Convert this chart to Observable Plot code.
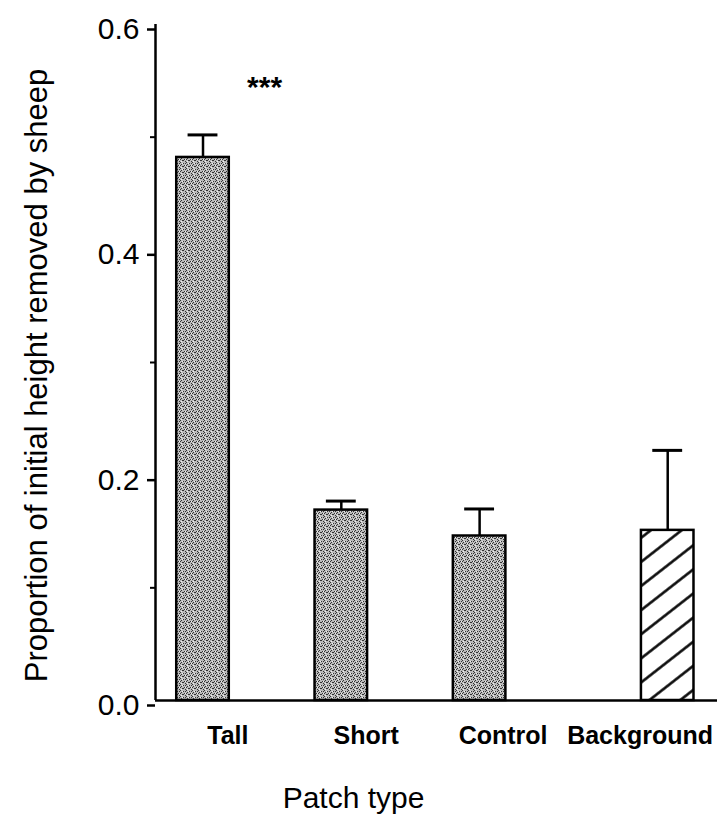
<!DOCTYPE html>
<html>
<head>
<meta charset="utf-8">
<script src="https://cdn.jsdelivr.net/npm/d3@7"></script>
<script src="https://cdn.jsdelivr.net/npm/@observablehq/plot@0.6"></script>
<style>
  html, body { margin: 0; padding: 0; background: #fff; }
  #chart svg { display: block; }
</style>
</head>
<body>
<div id="chart"></div>
<script>
// Patch types and the mean proportion of initial height removed by sheep (+ SE)
const patchTypes = ["Tall", "Short", "Control", "Background"];
const meanRemoved = [0.482, 0.169, 0.146, 0.151];
const stdError = [0.020, 0.008, 0.024, 0.071];
const significance = ["***", "", "", ""];

const majorTicks = [0.0, 0.2, 0.4, 0.6];
const minorTicks = [0.1, 0.3, 0.5];

const yLabel = "Proportion of initial height removed by sheep";
const xLabel = "Patch type";

// Layout: bar centres and label centres along a linear x axis
const barSlot = {Tall: 0, Short: 1, Control: 2, Background: 3.36};
const labelSlot = {Tall: 0.18, Short: 1.18, Control: 2.17, Background: 3.16};
const barHalf = 0.19;
const capHalf = 0.108;
const fillFor = {Tall: "url(#stipple)", Short: "url(#stipple)", Control: "url(#stipple)", Background: "url(#hatch)"};

const rows = patchTypes.map((p, i) => ({
  patch: p,
  mean: meanRemoved[i],
  upper: meanRemoved[i] + stdError[i],
  sig: significance[i]
}));

const font = "'Liberation Sans', Arial, Helvetica, sans-serif";
const sw = 2.5;

const chart = Plot.plot({
  width: 717,
  height: 833,
  marginLeft: 155,
  marginRight: 0,
  marginTop: 24,
  marginBottom: 133,
  style: {fontFamily: font, background: "#fff", color: "#000"},
  x: {type: "linear", domain: [-0.3435, 3.72], axis: null},
  y: {domain: [0, 0.6]},
  marks: [
    // y axis: major ticks with labels, minor ticks without
    Plot.axisY(majorTicks, {
      tickSize: 8, tickPadding: 8, tickFormat: d3.format(".1f"),
      fontSize: 30, strokeWidth: sw, dy: 5, label: null
    }),
    Plot.axisY(minorTicks, {tickSize: 5, strokeWidth: 2, text: null, label: null}),
    Plot.ruleX([0], {x: () => -0.3435, y1: 0, y2: 0.6, strokeWidth: sw}),
    // bars
    Plot.rect(rows, {
      x1: d => barSlot[d.patch] - barHalf,
      x2: d => barSlot[d.patch] + barHalf,
      y1: 0,
      y2: "mean",
      fill: d => fillFor[d.patch],
      stroke: "#000",
      strokeWidth: sw
    }),
    // error bars (upper only)
    Plot.ruleX(rows, {x: d => barSlot[d.patch], y1: "mean", y2: "upper", strokeWidth: sw}),
    Plot.ruleY(rows, {
      y: "upper",
      x1: d => barSlot[d.patch] - capHalf,
      x2: d => barSlot[d.patch] + capHalf,
      strokeWidth: sw + 0.5
    }),
    // baseline
    Plot.ruleY([0], {strokeWidth: sw}),
    // significance marker
    Plot.text(rows.filter(d => d.sig), {
      x: d => barSlot[d.patch] + 0.445, y: 0.544, text: "sig",
      fontSize: 30, fontWeight: "bold"
    }),
    // category labels
    Plot.text(rows, {
      x: d => labelSlot[d.patch], y: 0, text: "patch",
      dy: 35, fontSize: 25, fontWeight: "bold"
    }),
    // axis titles
    Plot.text([xLabel], {frameAnchor: "bottom-left", textAnchor: "middle", dx: 198, dy: 107, fontSize: 30}),
    Plot.text([yLabel], {frameAnchor: "left", textAnchor: "middle", rotate: -90, dx: -118, dy: 13, fontSize: 31})
  ]
});

// Fill patterns: grey stipple and diagonal hatching
const defs = d3.select(chart).insert("defs", ":first-child");
const stip = defs.append("pattern")
  .attr("id", "stipple").attr("patternUnits", "userSpaceOnUse")
  .attr("width", 6).attr("height", 6);
stip.append("rect").attr("width", 6).attr("height", 6).attr("fill", "#bcbcbc");
[[0,0],[3,1],[1,2],[4,3],[2,4],[5,5],[0,3],[3,4],[5,1]].forEach(([x, y]) =>
  stip.append("rect").attr("x", x).attr("y", y).attr("width", 1).attr("height", 1).attr("fill", "#333"));
[[2,1],[5,3],[1,5]].forEach(([x, y]) =>
  stip.append("rect").attr("x", x).attr("y", y).attr("width", 1).attr("height", 1).attr("fill", "#f2f2f2"));
const hatch = defs.append("pattern")
  .attr("id", "hatch").attr("patternUnits", "userSpaceOnUse")
  .attr("width", 19).attr("height", 19)
  .attr("patternTransform", "rotate(-38)");
hatch.append("rect").attr("width", 19).attr("height", 19).attr("fill", "#fff");
hatch.append("line").attr("x1", 0).attr("x2", 19).attr("y1", 1.5).attr("y2", 1.5)
  .attr("stroke", "#000").attr("stroke-width", 2.5);

document.getElementById("chart").appendChild(chart);
</script>
</body>
</html>
